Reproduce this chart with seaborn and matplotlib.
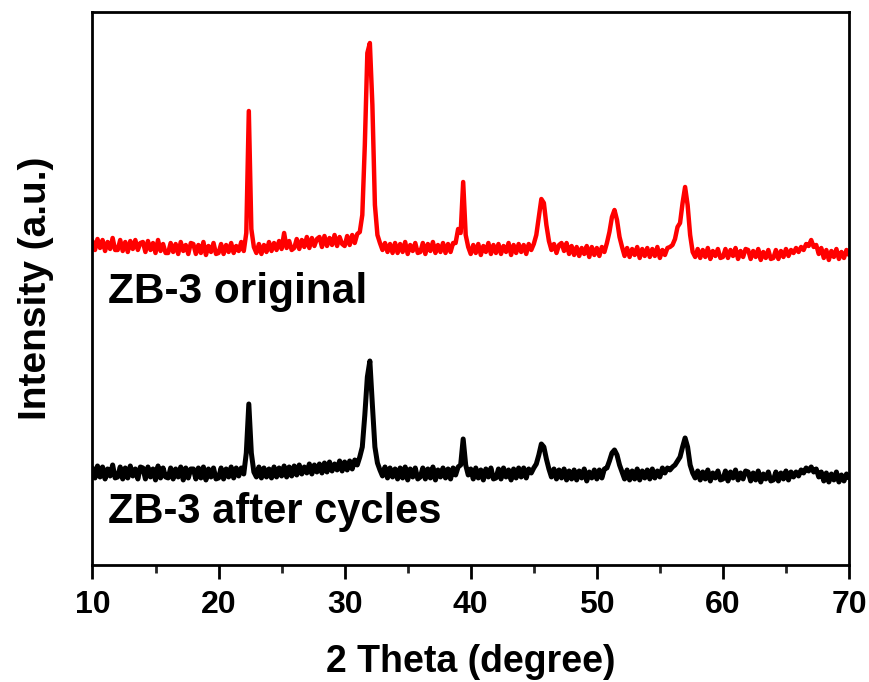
import numpy as np
import pandas as pd
import matplotlib
matplotlib.use("Agg")
import matplotlib.pyplot as plt
import seaborn as sns

# 2-theta sampling grid (degrees), 0.2 deg step from 10 to 70
two_theta = np.round(np.linspace(10.0, 70.0, 301), 2)

# ZB-3 original (red), intensity in arbitrary units
original = [
    324, 315, 326, 317, 325, 314, 323, 316, 327, 315,   # 10.0-11.8
    315, 325, 314, 323, 313, 324, 316, 325, 315, 322,   # 12.0-13.8
    323, 313, 324, 315, 322, 312, 325, 314, 321, 312,   # 14.0-15.8
    312, 322, 313, 321, 311, 323, 314, 320, 311, 322,   # 16.0-17.8
    321, 311, 320, 312, 323, 310, 319, 313, 322, 311,   # 18.0-19.8
    312, 321, 311, 320, 313, 322, 312, 319, 314, 323,   # 20.0-21.8
    314, 332, 454, 336, 318, 312, 321, 311, 320, 313,   # 22.0-23.8
    323, 314, 322, 315, 324, 316, 332, 317, 324, 315,   # 24.0-25.8
    317, 326, 316, 325, 318, 328, 317, 327, 319, 326,   # 26.0-27.8
    328, 318, 329, 319, 327, 320, 330, 319, 328, 321,   # 28.0-29.8
    319, 329, 320, 330, 322, 331, 333, 350, 420, 512,   # 30.0-31.8
    522, 460, 360, 330, 322, 315, 322, 313, 321, 312,   # 32.0-33.8
    322, 312, 321, 313, 323, 311, 320, 314, 322, 312,   # 34.0-35.8
    313, 322, 311, 321, 314, 323, 312, 320, 313, 322,   # 36.0-37.8
    312, 321, 313, 322, 322, 336, 332, 383, 330, 318,   # 38.0-39.8
    311, 320, 312, 321, 310, 319, 313, 322, 311, 320,   # 40.0-41.8
    312, 321, 311, 319, 313, 322, 310, 320, 312, 321,   # 42.0-43.8
    313, 320, 311, 321, 315, 321, 330, 348, 366, 362,   # 44.0-45.8
    340, 324, 315, 321, 312, 320, 322, 314, 322, 311,   # 46.0-47.8
    319, 310, 318, 309, 317, 311, 319, 308, 318, 310,   # 48.0-49.8
    317, 309, 318, 313, 322, 333, 348, 355, 345, 328,   # 50.0-51.8
    318, 309, 317, 308, 316, 310, 318, 307, 316, 309,   # 52.0-53.8
    317, 308, 316, 309, 318, 307, 315, 310, 317, 318,   # 54.0-55.8
    320, 326, 338, 342, 362, 378, 360, 330, 313, 308,   # 56.0-57.8
    316, 307, 315, 308, 317, 306, 314, 309, 316, 307,   # 58.0-59.8
    308, 316, 307, 315, 309, 317, 306, 314, 308, 316,   # 60.0-61.8
    315, 306, 314, 308, 316, 305, 313, 307, 315, 306,   # 62.0-63.8
    307, 315, 306, 314, 308, 316, 309, 315, 312, 317,   # 64.0-65.8
    313, 318, 315, 321, 319, 325, 318, 320, 311, 317,   # 66.0-67.8
    307, 315, 305, 314, 308, 316, 306, 313, 307, 315,   # 68.0-69.8
    310,                                                # 70.0
]

# ZB-3 after cycles (black)
after_cycles = [
    97, 87, 99, 88, 98, 86, 96, 89, 100, 87,           # 10.0-11.8
    88, 98, 86, 97, 87, 99, 89, 96, 86, 98,            # 12.0-13.8
    97, 86, 98, 88, 96, 85, 99, 87, 97, 88,            # 14.0-15.8
    87, 97, 86, 96, 88, 98, 85, 97, 87, 96,            # 16.0-17.8
    96, 86, 97, 87, 98, 85, 96, 88, 97, 86,            # 18.0-19.8
    87, 97, 86, 96, 88, 98, 87, 97, 89, 97,            # 20.0-21.8
    91, 112, 161, 112, 93, 88, 98, 87, 97, 88,         # 22.0-23.8
    96, 87, 98, 88, 97, 89, 99, 88, 98, 89,            # 24.0-25.8
    99, 90, 100, 91, 98, 92, 101, 91, 100, 93,         # 26.0-27.8
    101, 92, 102, 93, 103, 94, 101, 95, 104, 94,       # 28.0-29.8
    103, 95, 104, 96, 105, 100, 108, 118, 150, 188,    # 30.0-31.8
    204, 160, 118, 102, 95, 89, 98, 87, 97, 88,        # 32.0-33.8
    96, 86, 97, 87, 98, 85, 96, 88, 97, 86,            # 34.0-35.8
    88, 97, 86, 96, 87, 98, 85, 95, 88, 97,            # 36.0-37.8
    87, 96, 86, 97, 90, 98, 100, 126, 100, 90,         # 38.0-39.8
    96, 86, 97, 87, 95, 85, 96, 88, 97, 86,            # 40.0-41.8
    87, 96, 86, 97, 88, 95, 85, 96, 87, 97,            # 42.0-43.8
    88, 97, 87, 96, 92, 97, 101, 110, 121, 118,        # 44.0-45.8
    106, 96, 88, 96, 86, 95, 87, 96, 85, 94,           # 46.0-47.8
    86, 95, 85, 94, 87, 96, 84, 93, 87, 95,            # 48.0-49.8
    86, 95, 87, 96, 97, 104, 112, 115, 110, 100,       # 50.0-51.8
    93, 86, 95, 85, 94, 86, 96, 85, 94, 87,            # 52.0-53.8
    95, 86, 96, 87, 94, 88, 97, 92, 97, 95,            # 54.0-55.8
    98, 100, 104, 108, 118, 127, 118, 100, 92, 87,     # 56.0-57.8
    94, 85, 93, 86, 95, 84, 92, 87, 94, 85,            # 58.0-59.8
    86, 94, 84, 93, 87, 95, 85, 92, 86, 94,            # 60.0-61.8
    93, 84, 92, 85, 94, 83, 91, 86, 93, 84,            # 62.0-63.8
    85, 93, 84, 92, 86, 94, 85, 93, 88, 93,            # 64.0-65.8
    89, 95, 92, 97, 94, 98, 93, 96, 88, 93,            # 66.0-67.8
    84, 92, 83, 91, 85, 93, 83, 90, 84, 91,            # 68.0-69.8
    87,                                                # 70.0
]

labels = ["ZB-3 original", "ZB-3 after cycles"]
x_ticks = [10, 20, 30, 40, 50, 60, 70]

sns.set_theme(style="white")
plt.rcParams["font.family"] = ["Liberation Sans", "DejaVu Sans"]
plt.rcParams["font.weight"] = "bold"

df = pd.concat([
    pd.DataFrame({"theta": two_theta, "I": original, "s": labels[0]}),
    pd.DataFrame({"theta": two_theta, "I": after_cycles, "s": labels[1]}),
])

fig = plt.figure(figsize=(8.69, 6.82), dpi=100)
ax = fig.add_axes([0.1064, 0.1716, 0.8706, 0.8108])

sns.lineplot(data=df[df.s == labels[0]], x="theta", y="I", color="#ff0000",
             lw=3.2, estimator=None, sort=False, ax=ax)
sns.lineplot(data=df[df.s == labels[1]], x="theta", y="I", color="#000000",
             lw=3.6, estimator=None, sort=False, ax=ax)

ax.set_xlim(10, 70)
ax.set_ylim(0, 553)
ax.set_xticks(x_ticks)
ax.set_xticks([15, 25, 35, 45, 55, 65], minor=True)
ax.set_yticks([])
ax.tick_params(axis="x", which="major", direction="out", length=10, width=2,
               pad=8, bottom=True, top=False, colors="black")
ax.tick_params(axis="x", which="minor", direction="out", length=6, width=2,
               bottom=True, top=False)
for lab in ax.get_xticklabels():
    lab.set_fontweight("bold")
    lab.set_fontsize(23)
    lab.set_family(["Liberation Sans Narrow", "Liberation Sans", "DejaVu Sans"])
for sp in ax.spines.values():
    sp.set_visible(True)
    sp.set_color("black")
    sp.set_linewidth(2)

ax.set_xlabel("2 Theta (degree)", fontsize=27, fontweight="bold", labelpad=17, color="black")
ax.set_ylabel("Intensity (a.u.)", fontsize=28, fontweight="bold", labelpad=28, color="black")

ax.text(11.2, 262, labels[0], fontsize=30.5, fontweight="bold", va="baseline", ha="left", color="black")
ax.text(11.2, 42, labels[1], fontsize=30, fontweight="bold", va="baseline", ha="left", color="black")

fig.savefig("out.png", dpi=100)
